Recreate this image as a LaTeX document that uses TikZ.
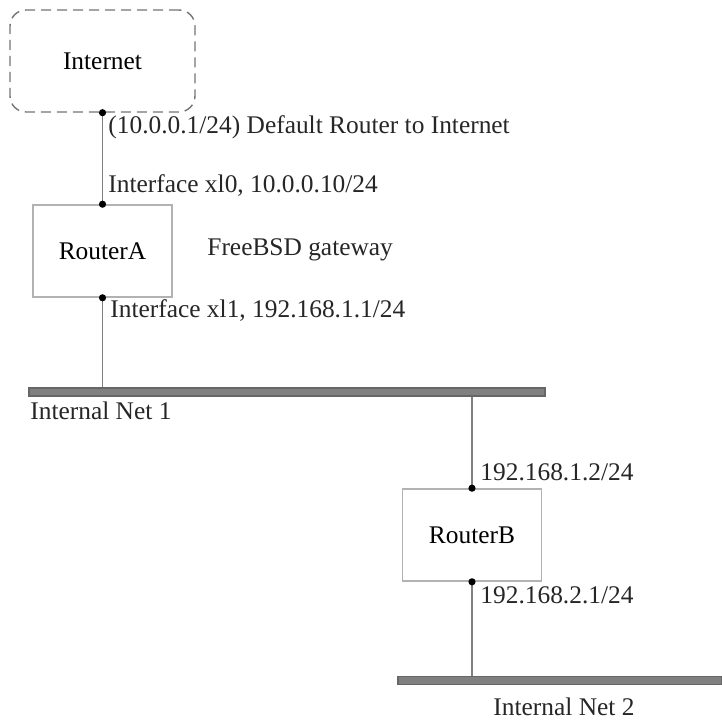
\documentclass[tikz,border=0pt]{standalone}
\usepackage{fontspec}
\setmainfont{Liberation Serif}
\begin{document}
\begin{tikzpicture}[x=0.5pt,y=-0.5pt,
  font=\fontsize{12.7}{14}\selectfont,
  cloud/.style={draw=black!55, line width=0.7pt, dash pattern=on 5pt off 3pt, rounded corners=8pt, minimum width=92.5pt, minimum height=51pt, inner sep=0pt},
  router/.style={draw=gray!60, line width=0.8pt, minimum width=69.5pt, minimum height=46pt, inner sep=0pt},
  bus/.style={draw=black!60, fill=black!50, line width=0.6pt, minimum height=4pt, inner sep=0pt},
  wire/.style={draw=black!50, line width=0.7pt},
  dot/.style={circle, fill=black, inner sep=0pt, minimum size=3.6pt},
  lbl/.style={anchor=west, inner sep=0pt, text=black!85}]
\useasboundingbox (0,0) rectangle (722,722);
\node[cloud] (inet) at (102.5,61) {Internet};
\node[router] (ra) at (102.5,251) {RouterA};
\node[router] (rb) at (472,535) {RouterB};
\node[bus, minimum width=258pt] (net1) at (287,392) {};
\node[bus, minimum width=162pt] (net2) at (560,680.5) {};
% connectors
\draw[wire] (inet.south) -- (ra.north);
\draw[wire] (ra.south) -- (ra.south |- net1.north);
\draw[wire] (net1.south -| rb.north) -- (rb.north);
\draw[wire] (rb.south) -- (rb.south |- net2.north);
% dots
\node[dot] (d1) at (inet.south) {};
\node[dot] (d2) at (ra.north) {};
\node[dot] (d3) at (ra.south) {};
\node[dot] (d4) at (rb.north) {};
\node[dot] (d5) at (rb.south) {};
% labels
\node[lbl] (l1) at (108,127) {(10.0.0.1/24) Default Router to Internet};
\node[lbl] (l2) at (108,186) {Interface xl0, 10.0.0.10/24};
\node[lbl] (l3) at (207,250) {FreeBSD gateway};
\node[lbl] (l4) at (110,311) {Interface xl1, 192.168.1.1/24};
\node[lbl] (l5) at (30,411) {Internal Net 1};
\node[lbl] (l6) at (480,472) {192.168.1.2/24};
\node[lbl] (l7) at (480,595) {192.168.2.1/24};
\node[lbl] (l8) at (493,707) {Internal Net 2};
\end{tikzpicture}
\end{document}
